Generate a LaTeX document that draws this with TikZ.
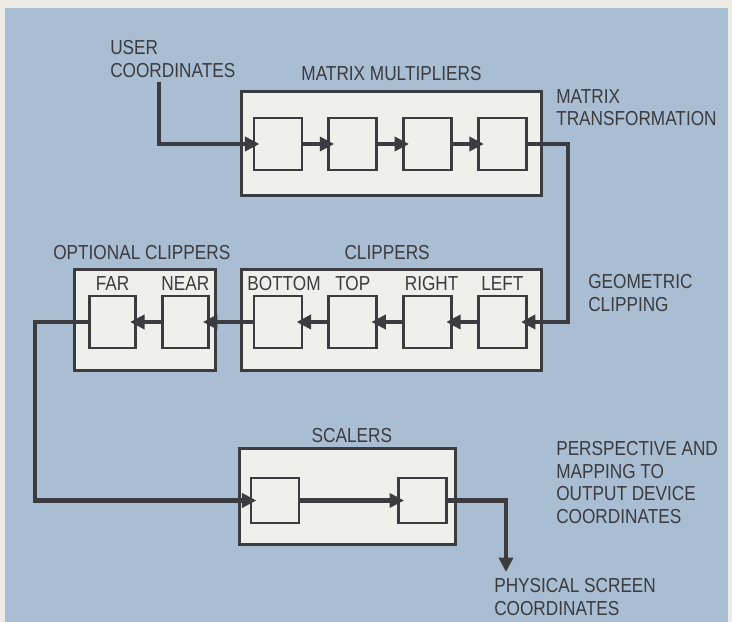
\documentclass[tikz,border=0pt]{standalone}
\usepackage{fontspec}
\setmainfont{Liberation Sans}[FakeStretch=0.85]
\usetikzlibrary{arrows.meta, positioning}
\definecolor{paper}{HTML}{ECEBE6}
\definecolor{panel}{HTML}{A9BED2}
\definecolor{boxfill}{HTML}{EFEFEB}
\definecolor{ink}{HTML}{3B3B40}

\begin{document}
\begin{tikzpicture}[
    % one unit = one pixel of the 732x622 plate, y grows downwards
    x=0.025cm, y=-0.025cm,
    font=\fontsize{14.4}{16.2}\selectfont,
    text=ink,
    node distance=0.6cm,
    stage/.style={rectangle, draw=ink, fill=boxfill, line width=0.075cm, inner sep=0pt},
    unit/.style={rectangle, draw=ink, fill=boxfill, line width=0.07cm, minimum width=1.2cm, minimum height=1.3cm, inner sep=0pt},
    title/.style={inner sep=0pt},
    note/.style={inner sep=0pt, align=left, anchor=north west},
    arrow/.style={draw=ink, line width=0.11cm, shorten >=-0.17cm, -{Triangle[length=0.36cm, width=0.35cm]}}
]

%% -- plate ------------------------------------------------------
\fill[paper] (0,0) rectangle (732,622);
\fill[panel] (5,8) rectangle (728,622);
\useasboundingbox (0,0) rectangle (732,622);

%% -- matrix multipliers -----------------------------------------
\node (mm) [stage, minimum width=7.475cm, minimum height=2.575cm] at (391.5,143.5) {};
\node (m1) [unit] at (278,144) {};
\node (m2) [unit, right=of m1] {};
\node (m3) [unit, right=of m2] {};
\node (m4) [unit, right=of m3] {};
\node (mmlabel) [title, above=0.225cm of mm] {MATRIX MULTIPLIERS};

%% -- clippers ---------------------------------------------------
\node (clip) [stage, minimum width=7.475cm, minimum height=2.5cm] at (391.5,320) {};
\node (cb) [unit] at (278,322) {};
\node (ct) [unit, right=of cb] {};
\node (cr) [unit, right=of ct] {};
\node (cl) [unit, right=of cr] {};
\node (cliplabel) [title, above=0.225cm of clip, xshift=-0.11cm] {CLIPPERS};
\node (cblabel) [title, above=0.09cm of cb, xshift=0.15cm] {BOTTOM};
\node (ctlabel) [title, above=0.09cm of ct] {TOP};
\node (crlabel) [title, above=0.09cm of cr, xshift=0.1cm] {RIGHT};
\node (cllabel) [title, above=0.09cm of cl] {LEFT};

%% -- optional clippers ------------------------------------------
\node (opt) [stage, minimum width=3.5cm, minimum height=2.5cm] at (145,320) {};
\node (far) [unit, minimum width=1.15cm] at (112.5,322) {};
\node (near) [unit, minimum width=1.15cm, right=of far] {};
\node (optlabel) [title, above=0.225cm of opt, xshift=-0.08cm] {OPTIONAL CLIPPERS};
\node (farlabel) [title, above=0.09cm of far] {FAR};
\node (nearlabel) [title, above=0.09cm of near] {NEAR};

%% -- scalers ----------------------------------------------------
\node (scal) [stage, minimum width=5.375cm, minimum height=2.375cm] at (347.5,496.5) {};
\node (s1) [unit, minimum height=1.125cm] at (275,500.5) {};
\node (s2) [unit, minimum height=1.125cm, right=2.42cm of s1] {};
\node (scallabel) [title, above=0.125cm of scal, xshift=0.11cm] {SCALERS};

%% -- side notes -------------------------------------------------
\node (user) [note] at (110,40) {USER\\COORDINATES};
\node (mtnote) [note] at (556,89) {MATRIX\\TRANSFORMATION};
\node (gcnote) [note] at (588,274) {GEOMETRIC\\CLIPPING};
\node (pmnote) [note] at (556,441) {PERSPECTIVE AND\\MAPPING TO\\OUTPUT DEVICE\\COORDINATES};
\node (screen) [note] at (494,578) {PHYSICAL SCREEN\\COORDINATES};

%% -- data path --------------------------------------------------
\coordinate (ustart) at (159,82);
\coordinate (rturn) at (568,0);
\coordinate (lturn) at (35,0);
\coordinate (out) at (506,572);

\draw [arrow] (ustart) |- (m1.west);
\draw [arrow] (m1) -- (m2);
\draw [arrow] (m2) -- (m3);
\draw [arrow] (m3) -- (m4);
\draw [arrow] (m4.east) -- (m4.east -| rturn) |- (cl.east);
\draw [arrow] (cl) -- (cr);
\draw [arrow] (cr) -- (ct);
\draw [arrow] (ct) -- (cb);
\draw [arrow] (cb) -- (near);
\draw [arrow] (near) -- (far);
\draw [arrow] (far.west) -- (far.west -| lturn) |- (s1.west);
\draw [arrow] (s1) -- (s2);
\draw [arrow, shorten >=0pt] (s2.east) -| (out);

\end{tikzpicture}
\end{document}
